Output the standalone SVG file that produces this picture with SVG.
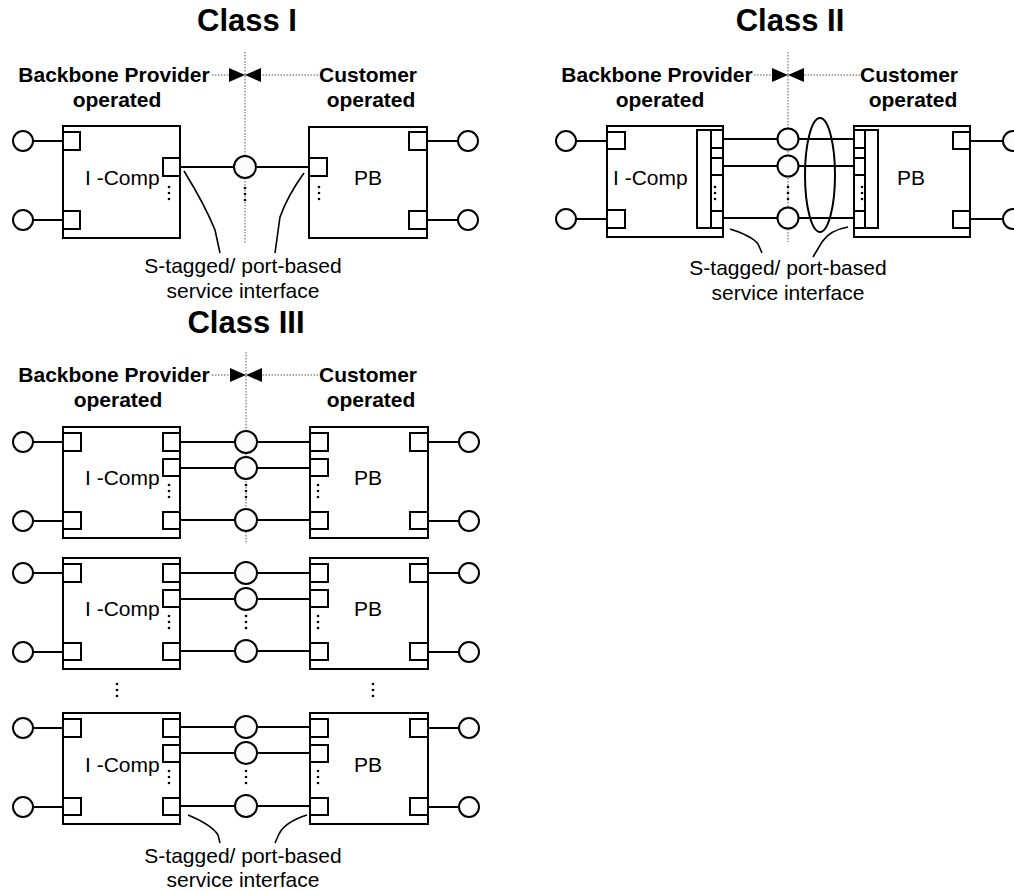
<svg xmlns="http://www.w3.org/2000/svg" xmlns:xlink="http://www.w3.org/1999/xlink" width="1014" height="892" viewBox="0 0 1014 892">
<style>
.bx{fill:#fff;stroke:#000;stroke-width:2}
.pt{fill:#fff;stroke:#000;stroke-width:2}
.tm{fill:#fcfcfc;stroke:#000;stroke-width:2}
.ln{stroke:#000;stroke-width:2;fill:none}
.cv{stroke:#000;stroke-width:1.6;fill:none}
.dl{stroke:#555;stroke-width:1;stroke-dasharray:1.5 1.5;fill:none}
.t{font-family:"Liberation Sans",Arial,sans-serif;font-size:21px;fill:#000}
.b{font-family:"Liberation Sans",Arial,sans-serif;font-size:21px;font-weight:bold;fill:#000;text-anchor:middle}
.h{font-family:"Liberation Sans",Arial,sans-serif;font-size:31px;font-weight:bold;fill:#000;text-anchor:middle}
.c{text-anchor:middle}
</style>
<defs>
<marker id="ah" markerUnits="userSpaceOnUse" markerWidth="16" markerHeight="14" refX="16" refY="7" orient="auto">
<path d="M0,0 L16,7 L0,14 z" fill="#000"/>
</marker>
<g id="vd"><circle cx="0" cy="0" r="1.3" fill="#000"/><circle cx="0" cy="6" r="1.3" fill="#000"/><circle cx="0" cy="12" r="1.3" fill="#000"/></g>
</defs>

<!-- ================= CLASS I ================= -->
<g id="class1-labels">
<text class="h" x="247" y="31">Class I</text>
<text class="b" x="114" y="82">Backbone Provider</text>
<text class="b" x="117" y="107">operated</text>
<text class="b" x="368" y="82">Customer</text>
<text class="b" x="371" y="107">operated</text>
<text class="t c" x="243" y="273">S-tagged/ port-based</text>
<text class="t c" x="243" y="298">service interface</text>
</g>
<g id="class1-connectors">
<line class="dl" x1="245" y1="52" x2="245" y2="243"/>
<line class="dl" x1="212" y1="75" x2="245" y2="75" marker-end="url(#ah)"/>
<line class="dl" x1="318" y1="75" x2="245" y2="75" marker-end="url(#ah)"/>
<line class="ln" x1="33" y1="141" x2="63" y2="141"/>
<line class="ln" x1="33" y1="220" x2="63" y2="220"/>
<line class="ln" x1="180" y1="167" x2="309" y2="167"/>
<line class="ln" x1="427" y1="141" x2="458" y2="141"/>
<line class="ln" x1="427" y1="220" x2="458" y2="220"/>
<path class="cv" d="M184,171 Q205,205 215,230 L220,253"/>
<path class="cv" d="M304,173 Q288,195 280,217 L275,253"/>
</g>
<g id="c1-icomp">
<rect class="bx" x="63" y="126" width="117" height="112"/>
<rect class="pt" x="63" y="132" width="17" height="18"/>
<rect class="pt" x="63" y="211" width="17" height="18"/>
<rect class="pt" x="163" y="158" width="17" height="18"/>
<use xlink:href="#vd" x="169" y="187"/>
<text class="t" x="85" y="185">I -Comp</text>
</g>
<g id="c1-pb">
<rect class="bx" x="309" y="127" width="118" height="111"/>
<rect class="pt" x="309" y="158" width="18" height="18"/>
<rect class="pt" x="409" y="132" width="18" height="18"/>
<rect class="pt" x="409" y="211" width="18" height="18"/>
<use xlink:href="#vd" x="319" y="187"/>
<text class="t c" x="368" y="185">PB</text>
</g>
<g id="c1-terminals">
<circle class="tm" cx="23" cy="141" r="10"/>
<circle class="tm" cx="23" cy="220" r="10"/>
<circle class="tm" cx="468" cy="141" r="10"/>
<circle class="tm" cx="468" cy="220" r="10"/>
<circle class="tm" cx="245" cy="167" r="11"/>
<use xlink:href="#vd" x="245" y="188"/>
</g>

<!-- ================= CLASS II ================= -->
<g id="class2-labels">
<text class="h" x="790" y="31">Class II</text>
<text class="b" x="657" y="82">Backbone Provider</text>
<text class="b" x="660" y="107">operated</text>
<text class="b" x="909" y="82">Customer</text>
<text class="b" x="913" y="107">operated</text>
<text class="t c" x="788" y="275">S-tagged/ port-based</text>
<text class="t c" x="788" y="300">service interface</text>
</g>
<g id="class2-connectors">
<line class="dl" x1="788" y1="52" x2="788" y2="242"/>
<line class="dl" x1="754" y1="75" x2="788" y2="75" marker-end="url(#ah)"/>
<line class="dl" x1="860" y1="75" x2="788" y2="75" marker-end="url(#ah)"/>
<line class="ln" x1="576" y1="141" x2="607" y2="141"/>
<line class="ln" x1="576" y1="219" x2="607" y2="219"/>
<line class="ln" x1="723" y1="139" x2="854" y2="139"/>
<line class="ln" x1="723" y1="166" x2="854" y2="166"/>
<line class="ln" x1="723" y1="218" x2="854" y2="218"/>
<line class="ln" x1="970" y1="141" x2="1003" y2="141"/>
<line class="ln" x1="970" y1="219" x2="1003" y2="219"/>
<path class="cv" d="M730,229 Q752,236 758,244 L762,253"/>
<path class="cv" d="M848,227 Q830,230 822,242 L813,257"/>
</g>
<g id="c2-icomp">
<rect class="bx" x="607" y="126" width="116" height="111"/>
<rect class="pt" x="607" y="132" width="18" height="17"/>
<rect class="pt" x="607" y="210" width="18" height="18"/>
<rect class="pt" x="697" y="130" width="14" height="98"/>
<rect class="pt" x="711" y="130" width="12" height="98"/>
<path class="ln" d="M711,148 H723 M711,158 H723 M711,175 H723 M711,211 H723"/>
<use xlink:href="#vd" x="715" y="187"/>
<text class="t" x="613" y="185">I -Comp</text>
</g>
<g id="c2-pb">
<rect class="bx" x="854" y="126" width="116" height="111"/>
<rect class="pt" x="854" y="130" width="11" height="98"/>
<rect class="pt" x="865" y="130" width="13" height="98"/>
<path class="ln" d="M854,148 H865 M854,158 H865 M854,175 H865 M854,211 H865"/>
<use xlink:href="#vd" x="862" y="187"/>
<rect class="pt" x="953" y="132" width="17" height="17"/>
<rect class="pt" x="953" y="211" width="17" height="17"/>
<text class="t c" x="911" y="185">PB</text>
</g>
<g id="c2-terminals">
<circle class="tm" cx="566" cy="141" r="10"/>
<circle class="tm" cx="566" cy="219" r="10"/>
<circle class="tm" cx="1013" cy="141" r="10"/>
<circle class="tm" cx="1013" cy="219" r="10"/>
<circle class="tm" cx="788" cy="139" r="10.5"/>
<circle class="tm" cx="788" cy="166" r="10.5"/>
<circle class="tm" cx="788" cy="218" r="10.5"/>
<use xlink:href="#vd" x="788" y="187"/>
<ellipse cx="820" cy="175" rx="15" ry="57" fill="none" stroke="#000" stroke-width="2"/>
</g>

<!-- ================= CLASS III ================= -->
<g id="class3-labels">
<text class="h" x="246" y="333">Class III</text>
<text class="b" x="114" y="382">Backbone Provider</text>
<text class="b" x="118" y="407">operated</text>
<text class="b" x="368" y="382">Customer</text>
<text class="b" x="371" y="407">operated</text>
<text class="t c" x="243" y="863">S-tagged/ port-based</text>
<text class="t c" x="243" y="887">service interface</text>
<use xlink:href="#vd" x="117" y="684"/>
<use xlink:href="#vd" x="373" y="684"/>
</g>
<g id="class3-connectors">
<line class="dl" x1="246" y1="352" x2="246" y2="544"/>
<line class="dl" x1="212" y1="375" x2="246" y2="375" marker-end="url(#ah)"/>
<line class="dl" x1="318" y1="375" x2="246" y2="375" marker-end="url(#ah)"/>
<path class="cv" d="M188,815 Q212,825 218,835 L220,843"/>
<path class="cv" d="M307,815 Q285,822 279,834 L275,843"/>
</g>
<g id="c3-row1" transform="translate(0,427)">
<line class="ln" x1="33" y1="15" x2="63" y2="15"/>
<line class="ln" x1="33" y1="94" x2="63" y2="94"/>
<line class="ln" x1="180" y1="15" x2="310" y2="15"/>
<line class="ln" x1="180" y1="41" x2="310" y2="41"/>
<line class="ln" x1="180" y1="93" x2="310" y2="93"/>
<line class="ln" x1="428" y1="15" x2="459" y2="15"/>
<line class="ln" x1="428" y1="94" x2="459" y2="94"/>
<g id="c3-r1-icomp">
<rect class="bx" x="63" y="0" width="117" height="111"/>
<rect class="pt" x="63" y="6" width="18" height="18"/>
<rect class="pt" x="63" y="85" width="18" height="17"/>
<rect class="pt" x="163" y="6" width="17" height="18"/>
<rect class="pt" x="163" y="32" width="17" height="17"/>
<rect class="pt" x="163" y="85" width="17" height="17"/>
<use xlink:href="#vd" x="169" y="58"/>
<text class="t" x="85" y="58">I -Comp</text>
</g>
<g id="c3-r1-pb">
<rect class="bx" x="310" y="0" width="118" height="111"/>
<rect class="pt" x="310" y="6" width="18" height="18"/>
<rect class="pt" x="310" y="32" width="18" height="17"/>
<rect class="pt" x="310" y="85" width="18" height="17"/>
<rect class="pt" x="410" y="6" width="18" height="18"/>
<rect class="pt" x="410" y="85" width="18" height="17"/>
<use xlink:href="#vd" x="318" y="58"/>
<text class="t c" x="368" y="58">PB</text>
</g>
<circle class="tm" cx="23" cy="15" r="10"/>
<circle class="tm" cx="23" cy="94" r="10"/>
<circle class="tm" cx="469" cy="15" r="10"/>
<circle class="tm" cx="469" cy="94" r="10"/>
<circle class="tm" cx="246" cy="15" r="11"/>
<circle class="tm" cx="246" cy="41" r="11"/>
<circle class="tm" cx="246" cy="93" r="11"/>
<use xlink:href="#vd" x="246" y="58"/>
</g>
<g id="c3-row2" transform="translate(0,558)">
<line class="ln" x1="33" y1="15" x2="63" y2="15"/>
<line class="ln" x1="33" y1="94" x2="63" y2="94"/>
<line class="ln" x1="180" y1="15" x2="310" y2="15"/>
<line class="ln" x1="180" y1="41" x2="310" y2="41"/>
<line class="ln" x1="180" y1="93" x2="310" y2="93"/>
<line class="ln" x1="428" y1="15" x2="459" y2="15"/>
<line class="ln" x1="428" y1="94" x2="459" y2="94"/>
<g id="c3-r2-icomp">
<rect class="bx" x="63" y="0" width="117" height="111"/>
<rect class="pt" x="63" y="6" width="18" height="18"/>
<rect class="pt" x="63" y="85" width="18" height="17"/>
<rect class="pt" x="163" y="6" width="17" height="18"/>
<rect class="pt" x="163" y="32" width="17" height="17"/>
<rect class="pt" x="163" y="85" width="17" height="17"/>
<use xlink:href="#vd" x="169" y="58"/>
<text class="t" x="85" y="58">I -Comp</text>
</g>
<g id="c3-r2-pb">
<rect class="bx" x="310" y="0" width="118" height="111"/>
<rect class="pt" x="310" y="6" width="18" height="18"/>
<rect class="pt" x="310" y="32" width="18" height="17"/>
<rect class="pt" x="310" y="85" width="18" height="17"/>
<rect class="pt" x="410" y="6" width="18" height="18"/>
<rect class="pt" x="410" y="85" width="18" height="17"/>
<use xlink:href="#vd" x="318" y="58"/>
<text class="t c" x="368" y="58">PB</text>
</g>
<circle class="tm" cx="23" cy="15" r="10"/>
<circle class="tm" cx="23" cy="94" r="10"/>
<circle class="tm" cx="469" cy="15" r="10"/>
<circle class="tm" cx="469" cy="94" r="10"/>
<circle class="tm" cx="246" cy="15" r="11"/>
<circle class="tm" cx="246" cy="41" r="11"/>
<circle class="tm" cx="246" cy="93" r="11"/>
<use xlink:href="#vd" x="246" y="58"/>
</g>
<g id="c3-row3" transform="translate(0,713)">
<line class="ln" x1="33" y1="15" x2="63" y2="15"/>
<line class="ln" x1="33" y1="94" x2="63" y2="94"/>
<line class="ln" x1="180" y1="14" x2="310" y2="14"/>
<line class="ln" x1="180" y1="40" x2="310" y2="40"/>
<line class="ln" x1="180" y1="93" x2="310" y2="93"/>
<line class="ln" x1="428" y1="15" x2="459" y2="15"/>
<line class="ln" x1="428" y1="94" x2="459" y2="94"/>
<g id="c3-r3-icomp">
<rect class="bx" x="63" y="0" width="117" height="111"/>
<rect class="pt" x="63" y="6" width="18" height="18"/>
<rect class="pt" x="63" y="85" width="18" height="17"/>
<rect class="pt" x="163" y="6" width="17" height="18"/>
<rect class="pt" x="163" y="32" width="17" height="17"/>
<rect class="pt" x="163" y="85" width="17" height="17"/>
<use xlink:href="#vd" x="169" y="58"/>
<text class="t" x="85" y="59">I -Comp</text>
</g>
<g id="c3-r3-pb">
<rect class="bx" x="310" y="0" width="118" height="111"/>
<rect class="pt" x="310" y="6" width="18" height="18"/>
<rect class="pt" x="310" y="32" width="18" height="17"/>
<rect class="pt" x="310" y="85" width="18" height="17"/>
<rect class="pt" x="410" y="6" width="18" height="18"/>
<rect class="pt" x="410" y="85" width="18" height="17"/>
<use xlink:href="#vd" x="318" y="58"/>
<text class="t c" x="368" y="59">PB</text>
</g>
<circle class="tm" cx="23" cy="15" r="10"/>
<circle class="tm" cx="23" cy="94" r="10"/>
<circle class="tm" cx="469" cy="15" r="10"/>
<circle class="tm" cx="469" cy="94" r="10"/>
<circle class="tm" cx="246" cy="14" r="11"/>
<circle class="tm" cx="246" cy="40" r="11"/>
<circle class="tm" cx="246" cy="93" r="11"/>
<use xlink:href="#vd" x="246" y="58"/>
</g>
</svg>
